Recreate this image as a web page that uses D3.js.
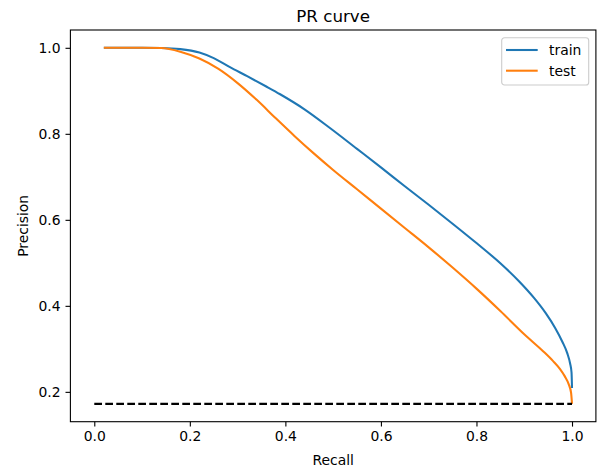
<!DOCTYPE html>
<html>
<head>
<meta charset="utf-8">
<script src="https://cdn.jsdelivr.net/npm/d3@7"></script>
<style>
  body { margin: 0; background: #fff; }
  text { font-family: "DejaVu Sans", sans-serif; fill: #000; }
</style>
</head>
<body>
<script>
// values
var trainRecall = [0.02, 0.10, 0.14, 0.18, 0.22, 0.25, 0.284, 0.32, 0.36, 0.389, 0.44, 0.494, 0.55, 0.60, 0.65, 0.70, 0.75, 0.80, 0.85, 0.89, 0.92, 0.945, 0.965, 0.98, 0.99, 0.996, 0.999, 1.0];
var trainPrecision = [1.0, 1.0, 0.9995, 0.997, 0.989, 0.976, 0.955, 0.934, 0.910, 0.892, 0.857, 0.813, 0.765, 0.722, 0.678, 0.635, 0.591, 0.546, 0.499, 0.456, 0.419, 0.383, 0.348, 0.316, 0.290, 0.266, 0.245, 0.209];

var testRecall = [0.02, 0.10, 0.14, 0.18, 0.22, 0.26, 0.30, 0.34, 0.38, 0.42, 0.46, 0.50, 0.55, 0.60, 0.65, 0.70, 0.75, 0.80, 0.85, 0.90, 0.94, 0.96, 0.975, 0.985, 0.993, 0.998, 1.0];
var testPrecision = [1.0, 1.0, 0.9995, 0.991, 0.975, 0.951, 0.918, 0.879, 0.836, 0.794, 0.754, 0.716, 0.671, 0.626, 0.581, 0.536, 0.489, 0.440, 0.388, 0.334, 0.294, 0.272, 0.253, 0.236, 0.218, 0.198, 0.172];

var baseline = 0.172;          // dashed no-skill line
var baseRecall = [0, 1];

var xTicks = [0.0, 0.2, 0.4, 0.6, 0.8, 1.0];
var yTicks = [0.2, 0.4, 0.6, 0.8, 1.0];

var seriesNames = ["train", "test"];
var seriesColors = ["#1f77b4", "#ff7f0e"];

var W = 597, H = 467;
var margin = {top: 30, right: 1.1, bottom: 45.3, left: 70.4},
    width = W - margin.left - margin.right,
    height = H - margin.top - margin.bottom;

var svg = d3.select("body").append("svg")
    .attr("width", W)
    .attr("height", H);

var g = svg.append("g")
    .attr("transform", "translate(" + margin.left + "," + margin.top + ")");

var x = d3.scaleLinear().domain([-0.05, 1.05]).range([0, width]);
var y = d3.scaleLinear().domain([0.1306, 1.0414]).range([height, 0]);

// axes
var xAxis = g.append("g")
    .attr("transform", "translate(0," + height + ")")
    .call(d3.axisBottom(x).tickValues(xTicks).tickFormat(d3.format(".1f")).tickSizeOuter(0).tickSize(4.9).tickPadding(4.9));
var yAxis = g.append("g")
    .call(d3.axisLeft(y).tickValues(yTicks).tickFormat(d3.format(".1f")).tickSizeOuter(0).tickSize(4.9).tickPadding(4.9));

[xAxis, yAxis].forEach(function(a) {
  a.select(".domain").remove();
  a.selectAll(".tick line").attr("stroke", "#000").attr("stroke-width", 1.1);
  a.selectAll(".tick text")
      .style("font-size", "13.9px")
      .style("font-family", "DejaVu Sans, sans-serif")
      .attr("fill", "#000");
});
xAxis.selectAll(".tick text").attr("dy", "0.72em");

// lines
var line = d3.line()
    .x(function(d) { return x(d[0]); })
    .y(function(d) { return y(d[1]); })
    .curve(d3.curveMonotoneX);

var trainData = d3.zip(trainRecall, trainPrecision);
var testData = d3.zip(testRecall, testPrecision);

g.append("path")
    .datum(trainData)
    .attr("fill", "none")
    .attr("stroke", seriesColors[0])
    .attr("stroke-width", 2.08)
    .attr("d", line);

g.append("path")
    .datum(testData)
    .attr("fill", "none")
    .attr("stroke", seriesColors[1])
    .attr("stroke-width", 2.08)
    .attr("d", line);

g.append("path")
    .datum(baseRecall.map(function(r) { return [r, baseline]; }))
    .attr("fill", "none")
    .attr("stroke", "#000")
    .attr("stroke-width", 2.08)
    .attr("stroke-dasharray", "7.7,3.3")
    .attr("d", d3.line().x(function(d) { return x(d[0]); }).y(function(d) { return y(d[1]); }));

// frame
g.append("rect")
    .attr("width", width)
    .attr("height", height)
    .attr("fill", "none")
    .attr("stroke", "#000")
    .attr("stroke-width", 1.1);

// title and labels
svg.append("text")
    .attr("x", margin.left + width / 2)
    .attr("y", margin.top - 8.3)
    .attr("text-anchor", "middle")
    .style("font-size", "16.7px")
    .text("PR curve");

svg.append("text")
    .attr("x", margin.left + width / 2)
    .attr("y", 464.5)
    .attr("text-anchor", "middle")
    .style("font-size", "13.9px")
    .text("Recall");

svg.append("text")
    .attr("transform", "translate(28," + (margin.top + height / 2) + ") rotate(-90)")
    .attr("text-anchor", "middle")
    .style("font-size", "13.9px")
    .text("Precision");

// legend
var legend = svg.append("g").attr("transform", "translate(501.7,37.7)");
legend.append("rect")
    .attr("width", 87)
    .attr("height", 47.3)
    .attr("rx", 2.8)
    .attr("fill", "#fff")
    .attr("fill-opacity", 0.8)
    .attr("stroke", "#cccccc")
    .attr("stroke-width", 1.1);

seriesNames.forEach(function(name, i) {
  var ly = 12.3 + i * 20.7;
  legend.append("line")
      .attr("x1", 4.3).attr("x2", 36)
      .attr("y1", ly).attr("y2", ly)
      .attr("stroke", seriesColors[i])
      .attr("stroke-width", 2.08);
  legend.append("text")
      .attr("x", 47.3)
      .attr("y", ly + 5)
      .style("font-size", "13.9px")
      .text(name);
});
</script>
</body>
</html>
